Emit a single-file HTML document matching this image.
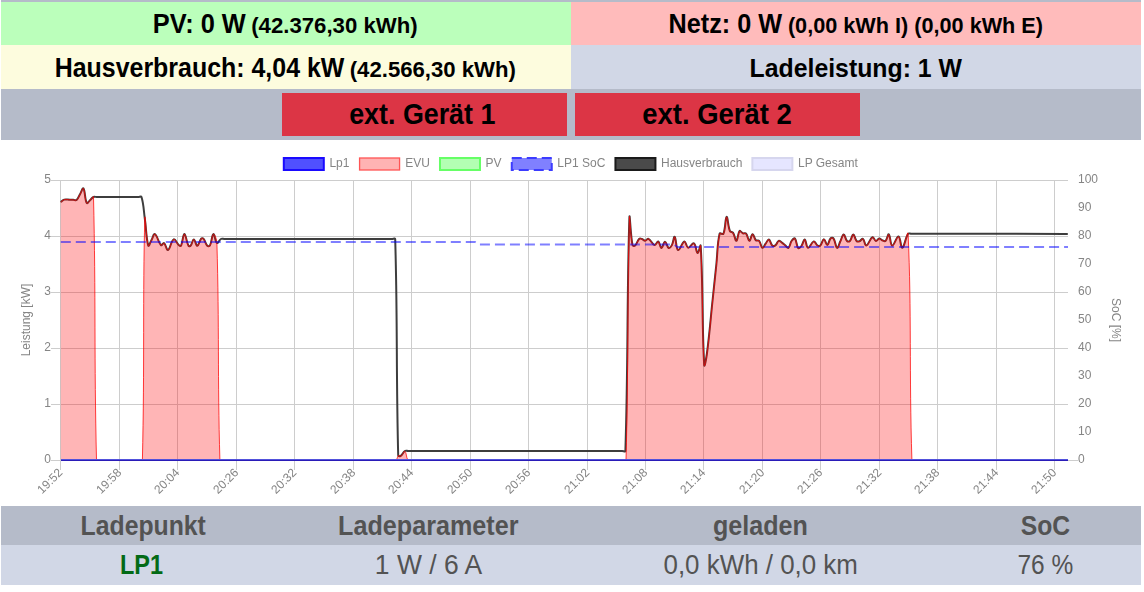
<!DOCTYPE html>
<html><head><meta charset="utf-8">
<style>
*{box-sizing:border-box;margin:0;padding:0}
html,body{width:1144px;height:592px;background:#fff;overflow:hidden;font-family:"Liberation Sans",sans-serif}
.a{position:absolute}
</style></head><body>
<div class="a" style="left:1px;top:0;width:1140px;height:2px;background:#b5bbc9"></div>
<div class="a" style="left:1px;top:2px;width:570px;height:43px;background:#bbffbb"></div>
<div class="a" style="left:571px;top:2px;width:570px;height:43px;background:#ffbbbb"></div>
<div class="a" style="left:1px;top:45px;width:570px;height:44px;background:#fdfcde"></div>
<div class="a" style="left:571px;top:45px;width:570px;height:44px;background:#d1d7e6"></div>
<div class="a" style="left:1px;top:89px;width:1140px;height:51px;background:#b5bbc9"></div>
<div class="a" style="left:282px;top:93px;width:285px;height:43px;background:#dc3545"></div>
<div class="a" style="left:575px;top:93px;width:285px;height:43px;background:#dc3545"></div>
<div class="a" style="left:1px;top:506px;width:1140px;height:39px;background:#b5bbc9"></div>
<div class="a" style="left:1px;top:545px;width:1140px;height:40px;background:#d1d7e6"></div>
<svg class="a" style="left:0;top:0" width="1144" height="592" viewBox="0 0 1144 592">
<rect x="51" y="180" width="1017" height="1" fill="#cdcdcd"/>
<rect x="51" y="236" width="1017" height="1" fill="#cdcdcd"/>
<rect x="51" y="292" width="1017" height="1" fill="#cdcdcd"/>
<rect x="51" y="348" width="1017" height="1" fill="#cdcdcd"/>
<rect x="51" y="404" width="1017" height="1" fill="#cdcdcd"/>
<rect x="51" y="460" width="1017" height="1" fill="#cdcdcd"/>
<rect x="1068" y="460" width="10" height="1" fill="#cdcdcd"/>
<rect x="60" y="180" width="1" height="290" fill="#cdcdcd"/>
<rect x="119" y="180" width="1" height="290" fill="#cdcdcd"/>
<rect x="177" y="180" width="1" height="290" fill="#cdcdcd"/>
<rect x="236" y="180" width="1" height="290" fill="#cdcdcd"/>
<rect x="294" y="180" width="1" height="290" fill="#cdcdcd"/>
<rect x="353" y="180" width="1" height="290" fill="#cdcdcd"/>
<rect x="411" y="180" width="1" height="290" fill="#cdcdcd"/>
<rect x="470" y="180" width="1" height="290" fill="#cdcdcd"/>
<rect x="528" y="180" width="1" height="290" fill="#cdcdcd"/>
<rect x="587" y="180" width="1" height="290" fill="#cdcdcd"/>
<rect x="645" y="180" width="1" height="290" fill="#cdcdcd"/>
<rect x="703" y="180" width="1" height="290" fill="#cdcdcd"/>
<rect x="762" y="180" width="1" height="290" fill="#cdcdcd"/>
<rect x="820" y="180" width="1" height="290" fill="#cdcdcd"/>
<rect x="879" y="180" width="1" height="290" fill="#cdcdcd"/>
<rect x="937" y="180" width="1" height="290" fill="#cdcdcd"/>
<rect x="996" y="180" width="1" height="290" fill="#cdcdcd"/>
<rect x="1054" y="180" width="1" height="290" fill="#cdcdcd"/>
<path d="M60.7,202 C62.1,201.04 62.63,199.99 64.2,199.6 C66.31,199.07 67.62,199.64 69.9,199.7 C71.2,199.74 71.85,199.79 73.15,199.85 C73.23,199.85 73.27,199.85 73.35,199.85 C74.65,199.91 75.73,200.73 76.6,200 C78.33,198.57 78.55,196.68 79.85,194.46 C79.97,194.25 80.03,194.15 80.15,193.94 C81.45,191.72 82.61,187.31 83.4,188.4 C85.27,190.97 84.74,199.46 86.8,203.1 C87.4,204.16 88.75,201.33 90.05,200.14 C90.13,200.07 90.17,200.03 90.25,199.96 C91.55,198.77 92.01,197.68 93.5,197 C94.6,196.5 95.45,197 96.75,197 C113.35,197 121.65,197 138.25,197 C139.55,197 141.16,195.88 141.5,197 C143.78,204.48 143.59,209.88 144.8,218.5 C146.31,229.32 146.12,238.7 148.3,245.6 C148.82,247.26 150.25,242.17 151.55,239.89 C151.59,239.82 151.61,239.78 151.65,239.71 C152.95,237.43 153.63,233.25 154.9,234 C157.37,235.45 158.17,242.37 161,245.2 C161.81,246.01 163.12,242.5 164,243.1 C165.92,244.42 166.45,250.59 168,250 C170.33,249.11 171.03,240.44 173.7,239.4 C175.55,238.68 176.86,243.56 179.3,245.6 C179.82,246.04 180.83,246.2 181.1,245.6 C182.87,241.6 182.95,234.06 184.4,234.1 C185.91,234.14 186.36,241.9 188.5,245.8 C188.88,246.5 190.19,246.22 190.7,245.6 C192.31,243.66 192.51,239.36 193.8,239.4 C195.15,239.44 195.91,245.95 197.3,245.8 C198.87,245.63 199.28,240.87 201.2,238.6 C201.72,237.99 202.88,237.99 203.4,238.6 C205.32,240.87 205.33,243.68 207.3,245.8 C207.93,246.48 209.47,246.43 209.9,245.6 C211.91,241.75 211.84,234.68 213.4,234.1 C214.64,233.64 215.01,241.77 216.9,243 C218.01,243.73 219.06,240.02 220.9,239 C221.96,238.42 222.85,239 224.15,239 C291.27,239 324.83,239 391.95,239 C393.25,239 395.16,237.72 395.2,239 C397.66,324.32 396.03,369.74 398.2,455.5 C398.23,456.5 399.94,456.41 400.7,455.9 C402.62,454.61 402.92,452.3 404.9,451 C405.9,450.34 406.85,451 408.15,451 C493.75,451 536.55,451 622.15,451 C623.45,451 625.36,452.28 625.4,451 C628.26,359.08 626.86,291.73 629.4,218 C629.7,209.37 630.42,235.04 632.5,245.1 C632.7,246.08 634.42,246.23 635.1,245.6 C637.14,243.71 637.24,240.77 639.3,238.8 C640,238.13 640.99,238.67 642,239 C643.31,239.43 643.86,240.74 645.1,240.7 C646.46,240.66 647.34,238.26 648.5,238.8 C651.1,240.02 652.06,244.42 654.5,245.1 C655.94,245.5 657.05,241.02 658.2,241.5 C659.81,242.18 660.04,247.96 661.4,248 C662.76,248.04 663.55,241.7 665,241.7 C666.47,241.7 666.97,247.15 668.7,248 C669.73,248.51 671.11,246.58 671.9,245.1 C673.51,242.1 673.73,236.02 674.7,236.8 C676.21,238.02 675.92,249.04 678.1,250.1 C679.8,250.92 682.02,242.07 684.4,241.5 C686.02,241.11 686.2,247.32 688.1,247.7 C690,248.08 692.33,242.53 693.9,243.4 C696.13,244.65 696.06,252.48 697.6,253 C698.78,253.4 700.54,242.91 700.7,245.7 C703.18,287.67 701.91,325.97 704.2,364.9 C704.43,368.89 706.37,357.84 707,353 C709.69,332.28 710.3,321.8 712.5,301 C713.8,288.69 714.45,282.53 715.75,270.21 C715.99,267.92 716.11,266.78 716.35,264.49 C717.65,252.17 717.09,244.63 719.6,233.7 C719.91,232.36 722.89,235.02 723.4,233.8 C725.69,228.3 725.19,217.51 726.6,216.9 C727.79,216.39 727.83,225.91 729.9,231 C730.43,232.31 732.31,231.71 733.1,232.9 C734.91,235.63 735.22,241.14 736.4,240.8 C737.82,240.38 737.73,233.16 739.6,231 C740.33,230.16 741.45,232.72 742.9,233.3 C744.05,233.76 745.35,232.73 746.1,233.6 C747.95,235.73 748.05,240.68 749.4,240.8 C750.65,240.92 751.26,234.3 752.6,234.2 C753.86,234.1 754.13,238.5 755.9,240.3 C756.73,241.14 758.33,239.91 759.1,240.8 C760.93,242.91 760.84,247.12 762.4,247.8 C763.46,248.26 764.35,245.31 765.65,243.65 C765.65,243.65 765.65,243.65 765.65,243.65 C766.95,241.99 767.75,239.19 768.9,239.5 C770.37,239.89 770.44,243.8 772.2,245.4 C773.04,246.16 774.46,246.06 775.4,245.4 C777.06,244.22 777.12,241.48 778.7,240.8 C779.72,240.36 780.69,241.78 781.9,242.6 C783.27,243.53 783.85,244.16 785.15,245.2 C785.15,245.2 785.15,245.2 785.15,245.2 C786.45,246.24 787.48,248.42 788.4,247.8 C790.1,246.65 789.98,243.26 791.7,240.8 C792.58,239.54 794.17,237.69 794.9,238.5 C796.77,240.57 796.31,245.82 798.2,248 C798.91,248.82 800.51,247.16 801.4,246 C803.11,243.76 803.51,239.18 804.7,239.5 C806.15,239.9 806.15,247.41 808,247.8 C809.79,248.17 811.5,242.03 813.8,241.4 C815.18,241.03 815.59,244.18 817.2,245.3 C818.11,245.94 819.35,246.48 820.1,245.8 C822.03,244.04 822.37,239.37 823.9,239.2 C825.25,239.05 826.02,245.17 827.3,245 C828.74,244.81 828.88,240.14 830.7,238.3 C831.4,237.58 833.02,237.73 833.6,238.6 C835.58,241.57 835.55,247.29 837.1,247.9 C838.25,248.35 839.05,243.91 840.35,241.26 C840.39,241.17 840.41,241.13 840.45,241.04 C841.75,238.39 842.39,234.41 843.7,234.4 C845.01,234.39 845.22,239.1 847,241 C847.7,241.74 849.19,241.74 849.9,241 C851.71,239.1 851.96,234.4 853.3,234.4 C854.64,234.4 854.82,239.05 856.6,241 C857.3,241.77 858.46,241.56 859.5,241.2 C860.98,240.68 861.94,238.18 862.9,238.8 C864.66,239.94 864.68,245.87 866.3,245.6 C868.52,245.23 869.92,238.44 872.5,237.2 C873.76,236.6 874.41,240.69 875.9,241 C877.09,241.25 877.83,238.78 879.2,238.6 C880.31,238.46 880.87,239.73 882.1,240.2 C883.39,240.69 884.64,241.75 885.5,241 C887.32,239.43 887.76,233.69 888.8,234.4 C890.44,235.53 890.2,245.15 892.2,245.6 C894.08,246.03 896.55,236.19 898.5,236.6 C900.59,237.03 900.62,248.19 902.3,247.7 C904.46,247.07 905.12,238.37 908.1,233.8 C908.74,232.81 910.05,233.8 911.35,233.8 C972.63,233.84 1003.27,233.86 1064.55,233.9 C1065.85,233.9 1066.5,233.9 1067.8,233.9" fill="none" stroke="#333" stroke-opacity="0.95" stroke-width="2" stroke-linejoin="round"/>
<path d="M60.7,202 C62.1,201.04 62.63,199.99 64.2,199.6 C66.31,199.07 67.62,199.64 69.9,199.7 C71.2,199.74 71.85,199.79 73.15,199.85 C73.23,199.85 73.27,199.85 73.35,199.85 C74.65,199.91 75.73,200.73 76.6,200 C78.33,198.57 78.55,196.68 79.85,194.46 C79.97,194.25 80.03,194.15 80.15,193.94 C81.45,191.72 82.61,187.31 83.4,188.4 C85.27,190.97 84.74,199.46 86.8,203.1 C87.4,204.16 88.75,201.33 90.05,200.14 C90.13,200.07 90.17,200.03 90.25,199.96 C91.55,198.77 93.46,195.29 93.5,197 C95.96,299.31 94.03,356.08 96.5,460 C96.53,460 98.45,460 99.75,460 C115.51,460 123.39,460 139.15,460 C140.45,460 142.37,460 142.4,460 C144.63,364.68 142.68,295.54 144.8,218.5 C145.04,209.78 146.12,238.7 148.3,245.6 C148.82,247.26 150.25,242.17 151.55,239.89 C151.59,239.82 151.61,239.78 151.65,239.71 C152.95,237.43 153.63,233.25 154.9,234 C157.37,235.45 158.17,242.37 161,245.2 C161.81,246.01 163.12,242.5 164,243.1 C165.92,244.42 166.45,250.59 168,250 C170.33,249.11 171.03,240.44 173.7,239.4 C175.55,238.68 176.86,243.56 179.3,245.6 C179.82,246.04 180.83,246.2 181.1,245.6 C182.87,241.6 182.95,234.06 184.4,234.1 C185.91,234.14 186.36,241.9 188.5,245.8 C188.88,246.5 190.19,246.22 190.7,245.6 C192.31,243.66 192.51,239.36 193.8,239.4 C195.15,239.44 195.91,245.95 197.3,245.8 C198.87,245.63 199.28,240.87 201.2,238.6 C201.72,237.99 202.88,237.99 203.4,238.6 C205.32,240.87 205.33,243.68 207.3,245.8 C207.93,246.48 209.47,246.43 209.9,245.6 C211.91,241.75 211.84,234.68 213.4,234.1 C214.64,233.64 216.79,239.19 216.9,243 C219.39,329.55 217.44,374.48 219.9,460 C219.94,460 221.85,460 223.15,460 C290.99,460 324.91,460 392.75,460 C394.05,460 395.1,460 396,460 C397.44,458.89 397.23,456.6 398.6,455.5 C399.27,454.96 400.35,456.4 401.1,455.9 C402.87,454.72 403.83,450.65 404.9,451.3 C406.55,452.29 406.05,457.43 407.9,460 C408.55,460 409.85,460 411.15,460 C495.79,460 538.11,460 622.75,460 C624.05,460 625.96,460 626,460 C628.62,364.48 627.06,295.25 629.4,218 C629.66,209.29 630.42,235.04 632.5,245.1 C632.7,246.08 634.42,246.23 635.1,245.6 C637.14,243.71 637.24,240.77 639.3,238.8 C640,238.13 640.99,238.67 642,239 C643.31,239.43 643.86,240.74 645.1,240.7 C646.46,240.66 647.34,238.26 648.5,238.8 C651.1,240.02 652.06,244.42 654.5,245.1 C655.94,245.5 657.05,241.02 658.2,241.5 C659.81,242.18 660.04,247.96 661.4,248 C662.76,248.04 663.55,241.7 665,241.7 C666.47,241.7 666.97,247.15 668.7,248 C669.73,248.51 671.11,246.58 671.9,245.1 C673.51,242.1 673.73,236.02 674.7,236.8 C676.21,238.02 675.92,249.04 678.1,250.1 C679.8,250.92 682.02,242.07 684.4,241.5 C686.02,241.11 686.2,247.32 688.1,247.7 C690,248.08 692.33,242.53 693.9,243.4 C696.13,244.65 696.06,252.48 697.6,253 C698.78,253.4 700.54,242.91 700.7,245.7 C703.18,287.67 701.91,325.97 704.2,364.9 C704.43,368.89 706.37,357.84 707,353 C709.69,332.28 710.3,321.8 712.5,301 C713.8,288.69 714.45,282.53 715.75,270.21 C715.99,267.92 716.11,266.78 716.35,264.49 C717.65,252.17 717.09,244.63 719.6,233.7 C719.91,232.36 722.89,235.02 723.4,233.8 C725.69,228.3 725.19,217.51 726.6,216.9 C727.79,216.39 727.83,225.91 729.9,231 C730.43,232.31 732.31,231.71 733.1,232.9 C734.91,235.63 735.22,241.14 736.4,240.8 C737.82,240.38 737.73,233.16 739.6,231 C740.33,230.16 741.45,232.72 742.9,233.3 C744.05,233.76 745.35,232.73 746.1,233.6 C747.95,235.73 748.05,240.68 749.4,240.8 C750.65,240.92 751.26,234.3 752.6,234.2 C753.86,234.1 754.13,238.5 755.9,240.3 C756.73,241.14 758.33,239.91 759.1,240.8 C760.93,242.91 760.84,247.12 762.4,247.8 C763.46,248.26 764.35,245.31 765.65,243.65 C765.65,243.65 765.65,243.65 765.65,243.65 C766.95,241.99 767.75,239.19 768.9,239.5 C770.37,239.89 770.44,243.8 772.2,245.4 C773.04,246.16 774.46,246.06 775.4,245.4 C777.06,244.22 777.12,241.48 778.7,240.8 C779.72,240.36 780.69,241.78 781.9,242.6 C783.27,243.53 783.85,244.16 785.15,245.2 C785.15,245.2 785.15,245.2 785.15,245.2 C786.45,246.24 787.48,248.42 788.4,247.8 C790.1,246.65 789.98,243.26 791.7,240.8 C792.58,239.54 794.17,237.69 794.9,238.5 C796.77,240.57 796.31,245.82 798.2,248 C798.91,248.82 800.51,247.16 801.4,246 C803.11,243.76 803.51,239.18 804.7,239.5 C806.15,239.9 806.15,247.41 808,247.8 C809.79,248.17 811.5,242.03 813.8,241.4 C815.18,241.03 815.59,244.18 817.2,245.3 C818.11,245.94 819.35,246.48 820.1,245.8 C822.03,244.04 822.37,239.37 823.9,239.2 C825.25,239.05 826.02,245.17 827.3,245 C828.74,244.81 828.88,240.14 830.7,238.3 C831.4,237.58 833.02,237.73 833.6,238.6 C835.58,241.57 835.55,247.29 837.1,247.9 C838.25,248.35 839.05,243.91 840.35,241.26 C840.39,241.17 840.41,241.13 840.45,241.04 C841.75,238.39 842.39,234.41 843.7,234.4 C845.01,234.39 845.22,239.1 847,241 C847.7,241.74 849.19,241.74 849.9,241 C851.71,239.1 851.96,234.4 853.3,234.4 C854.64,234.4 854.82,239.05 856.6,241 C857.3,241.77 858.46,241.56 859.5,241.2 C860.98,240.68 861.94,238.18 862.9,238.8 C864.66,239.94 864.68,245.87 866.3,245.6 C868.52,245.23 869.92,238.44 872.5,237.2 C873.76,236.6 874.41,240.69 875.9,241 C877.09,241.25 877.83,238.78 879.2,238.6 C880.31,238.46 880.87,239.73 882.1,240.2 C883.39,240.69 884.64,241.75 885.5,241 C887.32,239.43 887.76,233.69 888.8,234.4 C890.44,235.53 890.2,245.15 892.2,245.6 C894.08,246.03 896.55,236.19 898.5,236.6 C900.59,237.03 900.62,248.19 902.3,247.7 C904.46,247.07 907.86,228.5 908.1,233.8 C911.7,313.42 909.12,370.8 911.9,460 C911.94,460 913.85,460 915.15,460 C974.99,460 1004.91,460 1064.75,460 C1066.05,460 1066.7,460 1068,460 L1068,460 L60.8,460 Z" fill="#ff0a0d" fill-opacity="0.3" stroke="none"/>
<path d="M60.7,202 C62.1,201.04 62.63,199.99 64.2,199.6 C66.31,199.07 67.62,199.64 69.9,199.7 C71.2,199.74 71.85,199.79 73.15,199.85 C73.23,199.85 73.27,199.85 73.35,199.85 C74.65,199.91 75.73,200.73 76.6,200 C78.33,198.57 78.55,196.68 79.85,194.46 C79.97,194.25 80.03,194.15 80.15,193.94 C81.45,191.72 82.61,187.31 83.4,188.4 C85.27,190.97 84.74,199.46 86.8,203.1 C87.4,204.16 88.75,201.33 90.05,200.14 C90.13,200.07 90.17,200.03 90.25,199.96 C91.55,198.77 93.46,195.29 93.5,197 C95.96,299.31 94.03,356.08 96.5,460 C96.53,460 98.45,460 99.75,460 C115.51,460 123.39,460 139.15,460 C140.45,460 142.37,460 142.4,460 C144.63,364.68 142.68,295.54 144.8,218.5 C145.04,209.78 146.12,238.7 148.3,245.6 C148.82,247.26 150.25,242.17 151.55,239.89 C151.59,239.82 151.61,239.78 151.65,239.71 C152.95,237.43 153.63,233.25 154.9,234 C157.37,235.45 158.17,242.37 161,245.2 C161.81,246.01 163.12,242.5 164,243.1 C165.92,244.42 166.45,250.59 168,250 C170.33,249.11 171.03,240.44 173.7,239.4 C175.55,238.68 176.86,243.56 179.3,245.6 C179.82,246.04 180.83,246.2 181.1,245.6 C182.87,241.6 182.95,234.06 184.4,234.1 C185.91,234.14 186.36,241.9 188.5,245.8 C188.88,246.5 190.19,246.22 190.7,245.6 C192.31,243.66 192.51,239.36 193.8,239.4 C195.15,239.44 195.91,245.95 197.3,245.8 C198.87,245.63 199.28,240.87 201.2,238.6 C201.72,237.99 202.88,237.99 203.4,238.6 C205.32,240.87 205.33,243.68 207.3,245.8 C207.93,246.48 209.47,246.43 209.9,245.6 C211.91,241.75 211.84,234.68 213.4,234.1 C214.64,233.64 216.79,239.19 216.9,243 C219.39,329.55 217.44,374.48 219.9,460 C219.94,460 221.85,460 223.15,460 C290.99,460 324.91,460 392.75,460 C394.05,460 395.1,460 396,460 C397.44,458.89 397.23,456.6 398.6,455.5 C399.27,454.96 400.35,456.4 401.1,455.9 C402.87,454.72 403.83,450.65 404.9,451.3 C406.55,452.29 406.05,457.43 407.9,460 C408.55,460 409.85,460 411.15,460 C495.79,460 538.11,460 622.75,460 C624.05,460 625.96,460 626,460 C628.62,364.48 627.06,295.25 629.4,218 C629.66,209.29 630.42,235.04 632.5,245.1 C632.7,246.08 634.42,246.23 635.1,245.6 C637.14,243.71 637.24,240.77 639.3,238.8 C640,238.13 640.99,238.67 642,239 C643.31,239.43 643.86,240.74 645.1,240.7 C646.46,240.66 647.34,238.26 648.5,238.8 C651.1,240.02 652.06,244.42 654.5,245.1 C655.94,245.5 657.05,241.02 658.2,241.5 C659.81,242.18 660.04,247.96 661.4,248 C662.76,248.04 663.55,241.7 665,241.7 C666.47,241.7 666.97,247.15 668.7,248 C669.73,248.51 671.11,246.58 671.9,245.1 C673.51,242.1 673.73,236.02 674.7,236.8 C676.21,238.02 675.92,249.04 678.1,250.1 C679.8,250.92 682.02,242.07 684.4,241.5 C686.02,241.11 686.2,247.32 688.1,247.7 C690,248.08 692.33,242.53 693.9,243.4 C696.13,244.65 696.06,252.48 697.6,253 C698.78,253.4 700.54,242.91 700.7,245.7 C703.18,287.67 701.91,325.97 704.2,364.9 C704.43,368.89 706.37,357.84 707,353 C709.69,332.28 710.3,321.8 712.5,301 C713.8,288.69 714.45,282.53 715.75,270.21 C715.99,267.92 716.11,266.78 716.35,264.49 C717.65,252.17 717.09,244.63 719.6,233.7 C719.91,232.36 722.89,235.02 723.4,233.8 C725.69,228.3 725.19,217.51 726.6,216.9 C727.79,216.39 727.83,225.91 729.9,231 C730.43,232.31 732.31,231.71 733.1,232.9 C734.91,235.63 735.22,241.14 736.4,240.8 C737.82,240.38 737.73,233.16 739.6,231 C740.33,230.16 741.45,232.72 742.9,233.3 C744.05,233.76 745.35,232.73 746.1,233.6 C747.95,235.73 748.05,240.68 749.4,240.8 C750.65,240.92 751.26,234.3 752.6,234.2 C753.86,234.1 754.13,238.5 755.9,240.3 C756.73,241.14 758.33,239.91 759.1,240.8 C760.93,242.91 760.84,247.12 762.4,247.8 C763.46,248.26 764.35,245.31 765.65,243.65 C765.65,243.65 765.65,243.65 765.65,243.65 C766.95,241.99 767.75,239.19 768.9,239.5 C770.37,239.89 770.44,243.8 772.2,245.4 C773.04,246.16 774.46,246.06 775.4,245.4 C777.06,244.22 777.12,241.48 778.7,240.8 C779.72,240.36 780.69,241.78 781.9,242.6 C783.27,243.53 783.85,244.16 785.15,245.2 C785.15,245.2 785.15,245.2 785.15,245.2 C786.45,246.24 787.48,248.42 788.4,247.8 C790.1,246.65 789.98,243.26 791.7,240.8 C792.58,239.54 794.17,237.69 794.9,238.5 C796.77,240.57 796.31,245.82 798.2,248 C798.91,248.82 800.51,247.16 801.4,246 C803.11,243.76 803.51,239.18 804.7,239.5 C806.15,239.9 806.15,247.41 808,247.8 C809.79,248.17 811.5,242.03 813.8,241.4 C815.18,241.03 815.59,244.18 817.2,245.3 C818.11,245.94 819.35,246.48 820.1,245.8 C822.03,244.04 822.37,239.37 823.9,239.2 C825.25,239.05 826.02,245.17 827.3,245 C828.74,244.81 828.88,240.14 830.7,238.3 C831.4,237.58 833.02,237.73 833.6,238.6 C835.58,241.57 835.55,247.29 837.1,247.9 C838.25,248.35 839.05,243.91 840.35,241.26 C840.39,241.17 840.41,241.13 840.45,241.04 C841.75,238.39 842.39,234.41 843.7,234.4 C845.01,234.39 845.22,239.1 847,241 C847.7,241.74 849.19,241.74 849.9,241 C851.71,239.1 851.96,234.4 853.3,234.4 C854.64,234.4 854.82,239.05 856.6,241 C857.3,241.77 858.46,241.56 859.5,241.2 C860.98,240.68 861.94,238.18 862.9,238.8 C864.66,239.94 864.68,245.87 866.3,245.6 C868.52,245.23 869.92,238.44 872.5,237.2 C873.76,236.6 874.41,240.69 875.9,241 C877.09,241.25 877.83,238.78 879.2,238.6 C880.31,238.46 880.87,239.73 882.1,240.2 C883.39,240.69 884.64,241.75 885.5,241 C887.32,239.43 887.76,233.69 888.8,234.4 C890.44,235.53 890.2,245.15 892.2,245.6 C894.08,246.03 896.55,236.19 898.5,236.6 C900.59,237.03 900.62,248.19 902.3,247.7 C904.46,247.07 907.86,228.5 908.1,233.8 C911.7,313.42 909.12,370.8 911.9,460 C911.94,460 913.85,460 915.15,460 C974.99,460 1004.91,460 1064.75,460 C1066.05,460 1066.7,460 1068,460" fill="none" stroke="#ff0000" stroke-opacity="0.75" stroke-width="1" stroke-linejoin="round"/>
<polyline points="60.8,242 475,242 478.2,244.5 674,244.5 677.2,247 1068,247" fill="none" stroke="#0000ff" stroke-opacity="0.5" stroke-width="2" stroke-dasharray="10 5"/>
<rect x="61" y="459" width="1007" height="1" fill="#5252dc"/>
<rect x="61" y="460" width="1007" height="1" fill="#2a1cb8"/>
<rect x="283.8" y="158" width="40" height="12" fill="#5050ff" stroke="#1a0aff" stroke-width="2"/>
<rect x="359.57" y="158" width="40" height="12" fill="#ffb3b3" stroke="#ff5555" stroke-width="1.3"/>
<rect x="439.99" y="158" width="40" height="12" fill="#b3ffb3" stroke="#66ff66" stroke-width="2"/>
<rect x="511.76" y="158" width="40" height="12" fill="#8080ff" stroke="#3c3cff" stroke-width="2" stroke-dasharray="10 5"/>
<rect x="615.44" y="158" width="40" height="12" fill="#4a4a4a" stroke="#1a1a1a" stroke-width="2"/>
<rect x="752.37" y="158" width="40" height="12" fill="#e6e6ff" stroke="#d6d6ee" stroke-width="2"/>
<text font-family="Liberation Sans" font-weight="bold" font-size="25.40" fill="#000" transform="translate(152.70,32.90) scale(1,1.084)">PV: 0 W</text>
<text font-family="Liberation Sans" font-weight="bold" font-size="22.20" fill="#000" transform="translate(251.20,32.80) scale(1,1.000)">(42.376,30 kWh)</text>
<text font-family="Liberation Sans" font-weight="bold" font-size="25.22" fill="#000" transform="translate(668.60,33.00) scale(1,1.097)">Netz: 0 W</text>
<text font-family="Liberation Sans" font-weight="bold" font-size="21.66" fill="#000" transform="translate(787.90,32.80) scale(1,1.000)">(0,00 kWh I) (0,00 kWh E)</text>
<text font-family="Liberation Sans" font-weight="bold" font-size="24.95" fill="#000" transform="translate(54.70,76.80) scale(1,1.098)">Hausverbrauch: 4,04 kW</text>
<text font-family="Liberation Sans" font-weight="bold" font-size="22.17" fill="#000" transform="translate(349.70,76.60) scale(1,1.000)">(42.566,30 kWh)</text>
<text font-family="Liberation Sans" font-weight="bold" font-size="24.82" fill="#000" transform="translate(749.60,76.60) scale(1,1.074)">Ladeleistung: 1 W</text>
<text font-family="Liberation Sans" font-weight="bold" font-size="26.85" fill="#000" transform="translate(349.20,123.70) scale(1,1.091)">ext. Gerät 1</text>
<text font-family="Liberation Sans" font-weight="bold" font-size="27.47" fill="#000" transform="translate(642.20,123.70) scale(1,1.066)">ext. Gerät 2</text>
<text font-family="Liberation Sans" font-weight="bold" font-size="24.79" fill="#535353" transform="translate(80.60,534.90) scale(1,1.099)">Ladepunkt</text>
<text font-family="Liberation Sans" font-weight="bold" font-size="25.16" fill="#535353" transform="translate(338.10,534.90) scale(1,1.083)">Ladeparameter</text>
<text font-family="Liberation Sans" font-weight="bold" font-size="25.13" fill="#535353" transform="translate(712.90,534.90) scale(1,1.100)">geladen</text>
<text font-family="Liberation Sans" font-weight="bold" font-size="24.75" fill="#535353" transform="translate(1020.70,534.90) scale(1,1.085)">SoC</text>
<text font-family="Liberation Sans" font-weight="bold" font-size="23.49" fill="#036a16" transform="translate(119.90,574.00) scale(1,1.172)">LP1</text>
<text font-family="Liberation Sans" font-weight="normal" font-size="26.48" fill="#535353" transform="translate(374.80,574.10) scale(1,1.051)">1 W / 6 A</text>
<text font-family="Liberation Sans" font-weight="normal" font-size="25.92" fill="#535353" transform="translate(663.50,574.10) scale(1,1.058)">0,0 kWh / 0,0 km</text>
<text font-family="Liberation Sans" font-weight="normal" font-size="24.52" fill="#535353" transform="translate(1017.40,574.10) scale(1,1.135)">76 %</text>
</svg>
<svg class="a" style="left:0;top:0;will-change:transform" width="1144" height="592" viewBox="0 0 1144 592">
<text x="51" y="459" font-family="Liberation Sans, sans-serif" font-size="12" fill="#858585" text-anchor="end" dominant-baseline="central">0</text>
<text x="51" y="403" font-family="Liberation Sans, sans-serif" font-size="12" fill="#858585" text-anchor="end" dominant-baseline="central">1</text>
<text x="51" y="347" font-family="Liberation Sans, sans-serif" font-size="12" fill="#858585" text-anchor="end" dominant-baseline="central">2</text>
<text x="51" y="291" font-family="Liberation Sans, sans-serif" font-size="12" fill="#858585" text-anchor="end" dominant-baseline="central">3</text>
<text x="51" y="235" font-family="Liberation Sans, sans-serif" font-size="12" fill="#858585" text-anchor="end" dominant-baseline="central">4</text>
<text x="51" y="179" font-family="Liberation Sans, sans-serif" font-size="12" fill="#858585" text-anchor="end" dominant-baseline="central">5</text>
<text x="1078" y="458.8" font-family="Liberation Sans, sans-serif" font-size="12" fill="#858585" dominant-baseline="central">0</text>
<text x="1078" y="430.8" font-family="Liberation Sans, sans-serif" font-size="12" fill="#858585" dominant-baseline="central">10</text>
<text x="1078" y="402.8" font-family="Liberation Sans, sans-serif" font-size="12" fill="#858585" dominant-baseline="central">20</text>
<text x="1078" y="374.8" font-family="Liberation Sans, sans-serif" font-size="12" fill="#858585" dominant-baseline="central">30</text>
<text x="1078" y="346.8" font-family="Liberation Sans, sans-serif" font-size="12" fill="#858585" dominant-baseline="central">40</text>
<text x="1078" y="318.8" font-family="Liberation Sans, sans-serif" font-size="12" fill="#858585" dominant-baseline="central">50</text>
<text x="1078" y="290.8" font-family="Liberation Sans, sans-serif" font-size="12" fill="#858585" dominant-baseline="central">60</text>
<text x="1078" y="262.8" font-family="Liberation Sans, sans-serif" font-size="12" fill="#858585" dominant-baseline="central">70</text>
<text x="1078" y="234.8" font-family="Liberation Sans, sans-serif" font-size="12" fill="#858585" dominant-baseline="central">80</text>
<text x="1078" y="206.8" font-family="Liberation Sans, sans-serif" font-size="12" fill="#858585" dominant-baseline="central">90</text>
<text x="1078" y="178.8" font-family="Liberation Sans, sans-serif" font-size="12" fill="#858585" dominant-baseline="central">100</text>
<text font-family="Liberation Sans, sans-serif" font-size="12" fill="#858585" text-anchor="end" dominant-baseline="central" transform="translate(60.4,470.4) rotate(-45)">19:52</text>
<text font-family="Liberation Sans, sans-serif" font-size="12" fill="#858585" text-anchor="end" dominant-baseline="central" transform="translate(119.4,470.4) rotate(-45)">19:58</text>
<text font-family="Liberation Sans, sans-serif" font-size="12" fill="#858585" text-anchor="end" dominant-baseline="central" transform="translate(177.4,470.4) rotate(-45)">20:04</text>
<text font-family="Liberation Sans, sans-serif" font-size="12" fill="#858585" text-anchor="end" dominant-baseline="central" transform="translate(236.4,470.4) rotate(-45)">20:26</text>
<text font-family="Liberation Sans, sans-serif" font-size="12" fill="#858585" text-anchor="end" dominant-baseline="central" transform="translate(294.4,470.4) rotate(-45)">20:32</text>
<text font-family="Liberation Sans, sans-serif" font-size="12" fill="#858585" text-anchor="end" dominant-baseline="central" transform="translate(353.4,470.4) rotate(-45)">20:38</text>
<text font-family="Liberation Sans, sans-serif" font-size="12" fill="#858585" text-anchor="end" dominant-baseline="central" transform="translate(411.4,470.4) rotate(-45)">20:44</text>
<text font-family="Liberation Sans, sans-serif" font-size="12" fill="#858585" text-anchor="end" dominant-baseline="central" transform="translate(470.4,470.4) rotate(-45)">20:50</text>
<text font-family="Liberation Sans, sans-serif" font-size="12" fill="#858585" text-anchor="end" dominant-baseline="central" transform="translate(528.4,470.4) rotate(-45)">20:56</text>
<text font-family="Liberation Sans, sans-serif" font-size="12" fill="#858585" text-anchor="end" dominant-baseline="central" transform="translate(587.4,470.4) rotate(-45)">21:02</text>
<text font-family="Liberation Sans, sans-serif" font-size="12" fill="#858585" text-anchor="end" dominant-baseline="central" transform="translate(645.4,470.4) rotate(-45)">21:08</text>
<text font-family="Liberation Sans, sans-serif" font-size="12" fill="#858585" text-anchor="end" dominant-baseline="central" transform="translate(703.4,470.4) rotate(-45)">21:14</text>
<text font-family="Liberation Sans, sans-serif" font-size="12" fill="#858585" text-anchor="end" dominant-baseline="central" transform="translate(762.4,470.4) rotate(-45)">21:20</text>
<text font-family="Liberation Sans, sans-serif" font-size="12" fill="#858585" text-anchor="end" dominant-baseline="central" transform="translate(820.4,470.4) rotate(-45)">21:26</text>
<text font-family="Liberation Sans, sans-serif" font-size="12" fill="#858585" text-anchor="end" dominant-baseline="central" transform="translate(879.4,470.4) rotate(-45)">21:32</text>
<text font-family="Liberation Sans, sans-serif" font-size="12" fill="#858585" text-anchor="end" dominant-baseline="central" transform="translate(937.4,470.4) rotate(-45)">21:38</text>
<text font-family="Liberation Sans, sans-serif" font-size="12" fill="#858585" text-anchor="end" dominant-baseline="central" transform="translate(996.4,470.4) rotate(-45)">21:44</text>
<text font-family="Liberation Sans, sans-serif" font-size="12" fill="#858585" text-anchor="end" dominant-baseline="central" transform="translate(1054.4,470.4) rotate(-45)">21:50</text>
<text font-family="Liberation Sans, sans-serif" font-size="12" fill="#858585" text-anchor="middle" dominant-baseline="central" transform="translate(26,320) rotate(-90)">Leistung [kW]</text>
<text font-family="Liberation Sans, sans-serif" font-size="12" fill="#858585" text-anchor="middle" dominant-baseline="central" transform="translate(1116,320) rotate(90)">SoC [%]</text>
<text x="329.4" y="163" font-family="Liberation Sans, sans-serif" font-size="12" fill="#858585" dominant-baseline="central">Lp1</text>
<text x="405.17" y="163" font-family="Liberation Sans, sans-serif" font-size="12" fill="#858585" dominant-baseline="central">EVU</text>
<text x="485.59" y="163" font-family="Liberation Sans, sans-serif" font-size="12" fill="#858585" dominant-baseline="central">PV</text>
<text x="557.36" y="163" font-family="Liberation Sans, sans-serif" font-size="12" fill="#858585" dominant-baseline="central">LP1 SoC</text>
<text x="661.04" y="163" font-family="Liberation Sans, sans-serif" font-size="12" fill="#858585" dominant-baseline="central">Hausverbrauch</text>
<text x="797.97" y="163" font-family="Liberation Sans, sans-serif" font-size="12" fill="#858585" dominant-baseline="central">LP Gesamt</text>
</svg>
</body></html>
